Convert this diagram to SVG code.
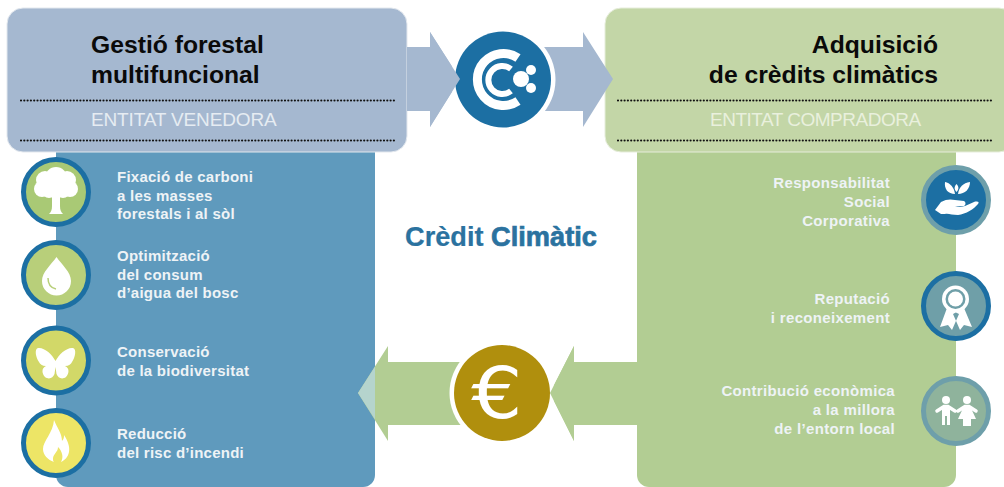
<svg xmlns="http://www.w3.org/2000/svg" width="1004" height="487" viewBox="0 0 1004 487">
<style>
text{font-family:"Liberation Sans",Arial,sans-serif}
.h{font-size:24.700px;font-weight:700;fill:#0a0a0a}
.sub{font-size:19px;fill:#e6ecf2;letter-spacing:-.15px}
.subg{font-size:19px;fill:#e9f0dd;letter-spacing:-.5px}
.b{font-size:15px;font-weight:700;fill:#eef3f6;letter-spacing:.25px}
.e{text-anchor:end;letter-spacing:.33px}
.dots{fill:none;stroke:#111;stroke-width:2.200;stroke-linecap:round;stroke-dasharray:0 3.300}
.ring{stroke-width:5}
.w{fill:#fff}
.ws{fill:none;stroke:#fff}
</style>
<rect width="1004" height="487" fill="#fff"/>
<g id="panel-left"><path d="M56 150H375V475a12 12 0 0 1-12 12H68a12 12 0 0 1-12-12Z" fill="#5f9abd"/></g>
<g id="panel-right"><path d="M637 150H956V475a12 12 0 0 1-12 12H649a12 12 0 0 1-12-12Z" fill="#b2cd93"/></g>
<g id="seller">
<rect x="7" y="8" width="400" height="144" rx="16" fill="#a5b8d0" stroke="#e3e8ee"/>
<text class="h" x="91" y="53">Gestió forestal</text>
<text class="h" x="91" y="83">multifuncional</text>
<path class="dots" d="M21 100.500H395M21 140.500H395"/>
<text class="sub" x="91" y="126">ENTITAT VENEDORA</text>
</g>
<g id="buyer">
<rect x="605" y="8" width="410" height="144" rx="16" fill="#c3d6a7" stroke="#e6eddb"/>
<text class="h" text-anchor="end" x="938" y="53">Adquisició</text>
<text class="h" text-anchor="end" x="938" y="83">de crèdits climàtics</text>
<path class="dots" d="M618 100.500H992M618 140.500H992"/>
<text class="subg" x="710" y="126">ENTITAT COMPRADORA</text>
</g>
<g id="connectors">
<path d="M407 47H430V32L460 79L430 127V111H407Z" fill="#a5b8d0"/>
<path d="M540 47H583V32L613 79L583 127V111H540Z" fill="#a5b8d0"/>
<path d="M358 393L388 346V362H470V425H388V441Z" fill="#b2cd93"/>
<path d="M358 393L375 366.400V419.600Z" fill="#b5d4cd"/>
<path d="M550 393L574 346V362H640V425H574V441Z" fill="#b2cd93"/>
</g>
<g id="credit-logo">
<circle cx="503" cy="79.500" r="52.500" fill="#fff"/>
<circle cx="503" cy="79.500" r="48" fill="#1c6fa3"/>
<path d="M460 79L430 127V32Z" fill="#a5b8d0"/>
<path class="ws" stroke-width="9" d="M518 58A26 26 0 1 0 518 101"/>
<path class="ws" stroke-width="6" d="M511 69A14 14 0 1 0 511 91"/>
<circle class="w" cx="521" cy="79" r="8"/><circle class="w" cx="531" cy="70" r="5"/><circle class="w" cx="531" cy="88" r="5"/>
</g>
<g id="euro">
<circle cx="502" cy="393" r="52.500" fill="#fff"/>
<path d="M550 393L574 346V441Z" fill="#b2cd93"/>
<circle cx="502" cy="393" r="48" fill="#b08f0d"/>
<text transform="translate(497 418) scale(1.12 1)" text-anchor="middle" font-size="72" fill="#fff" style="font-family:'DejaVu Sans',sans-serif">€</text>
</g>
<g id="title"><text x="405" y="246" font-size="27.200" font-weight="700" fill="#2b729f" stroke="#2b729f" stroke-width=".2">Crèdit <tspan stroke-width=".7">Climàtic</tspan></text></g>

<g id="benefit-carboni">
<circle class="ring" cx="56" cy="192" r="32.500" fill="#a9c975" stroke="#1c6fa3"/>
<g class="w"><circle cx="56" cy="178" r="11"/><circle cx="45" cy="180" r="9"/><circle cx="67" cy="180" r="9"/><circle cx="42" cy="189" r="8"/><circle cx="70" cy="189" r="8"/><circle cx="49" cy="191" r="7"/><circle cx="63" cy="191" r="7"/><circle cx="56" cy="187" r="9"/><path d="M52 194H60V206C60 210 61 212 63 214H49C51 212 52 210 52 206Z"/></g>
<text class="b" x="117" y="182">Fixació de carboni</text><text class="b" x="117" y="200.500">a les masses</text><text class="b" x="117" y="219">forestals i al sòl</text>
</g>
<g id="benefit-aigua">
<circle class="ring" cx="56" cy="275" r="32.500" fill="#b8cf7a" stroke="#1c6fa3"/>
<path class="w" d="M56.500 257C62 265 71 272 71 281A14.500 14.500 0 0 1 42 281C42 272 51 265 56.500 257Z"/>
<path d="M48 278C48 285 51 288 56 289" fill="none" stroke="#b8cf7a" stroke-width="1.500"/>
<text class="b" x="117" y="261">Optimització</text><text class="b" x="117" y="279.500">del consum</text><text class="b" x="117" y="298">d’aigua del bosc</text>
</g>
<g id="benefit-biodiversitat">
<circle class="ring" cx="56" cy="360.500" r="32.500" fill="#d2d868" stroke="#1c6fa3"/>
<path class="w" d="M55.500 361C52 354 44 347 38 348C34 349 36 358 39 362C40 364 42 366 46 366C41 368 42 374 45 377C49 380 53 378 54.500 374L55.500 367L56.500 374C58 378 62 380 66 377C69 374 70 368 65 366C69 366 71 364 72 362C75 358 77 349 73 348C67 347 59 354 55.500 361Z"/>
<text class="b" x="117" y="357">Conservació</text><text class="b" x="117" y="375.500">de la biodiversitat</text>
</g>
<g id="benefit-incendi">
<circle class="ring" cx="56" cy="443" r="32.500" fill="#ede566" stroke="#1c6fa3"/>
<path class="w" d="M54 420C57 428 62 433 62 441C64 439 64 437 64 435C68 441 70 447 69 452C68 457 65 460 61 462C64 457 62 451 58 447C58 452 54 453 53 458C53 460 53 461 54 462C48 460 43 455 43 449C43 441 53 433 54 420Z"/>
<text class="b" x="117" y="439">Reducció</text><text class="b" x="117" y="457.500">del risc d’incendi</text>
</g>
<g id="benefit-rsc">
<circle class="ring" cx="956" cy="200" r="32.500" fill="#1c6fa3" stroke="#6e9faa"/>
<g class="w"><path d="M955 194C954 187 950 183 945 182C944 189 948 194 955 194Z"/><path d="M958 194C965 194 970 189 970 182C963 183 959 187 958 194Z"/><path d="M956.500 192C954 189 954 187 956.500 184C959 187 959 189 956.500 192Z"/>
<path d="M935 210L941 202C946 199 951 199 955 200L964 201C966 202 966 205 964 206H955C958 207 962 207 965 206L974 202C977 201 980 202 978 204C974 209 966 214 958 215C952 215 948 213 945 214L941 214Z"/></g>
<text class="b e" x="890" y="188">Responsabilitat</text><text class="b e" x="890" y="207">Social</text><text class="b e" x="890" y="226">Corporativa</text>
</g>
<g id="benefit-reputacio">
<circle class="ring" cx="956" cy="306" r="32.500" fill="#6f9fa8" stroke="#1c6fa3"/>
<g class="w"><path d="M947 308L940 327L948 325L952 330L959 314ZM964 308L972 327L964 325L960 330L953 314Z"/><circle cx="955.500" cy="299" r="13.500"/></g>
<circle cx="955.500" cy="299" r="10" fill="#6f9fa8"/><circle class="w" cx="955.500" cy="299" r="7.500"/>
<text class="b e" x="890" y="304">Reputació</text><text class="b e" x="890" y="323">i reconeixement</text>
</g>
<g id="benefit-entorn">
<circle class="ring" cx="956" cy="411" r="32.500" fill="#8fb39c" stroke="#6e9faa"/>
<g class="w"><circle cx="946" cy="400" r="4"/><circle cx="967" cy="400" r="4"/>
<path d="M942 406H950V425H947V416H945V425H942Z"/><path d="M964 406H970L976 419H971V426H963V419H958Z"/></g>
<path class="ws" stroke-width="3.500" stroke-linecap="round" d="M937 411L944 406.500H948L955 411M958 411L965 406.500H969L976 411"/>
<text class="b e" x="895" y="396">Contribució econòmica</text><text class="b e" x="895" y="415">a la millora</text><text class="b e" x="895" y="434">de l’entorn local</text>
</g>
</svg>
